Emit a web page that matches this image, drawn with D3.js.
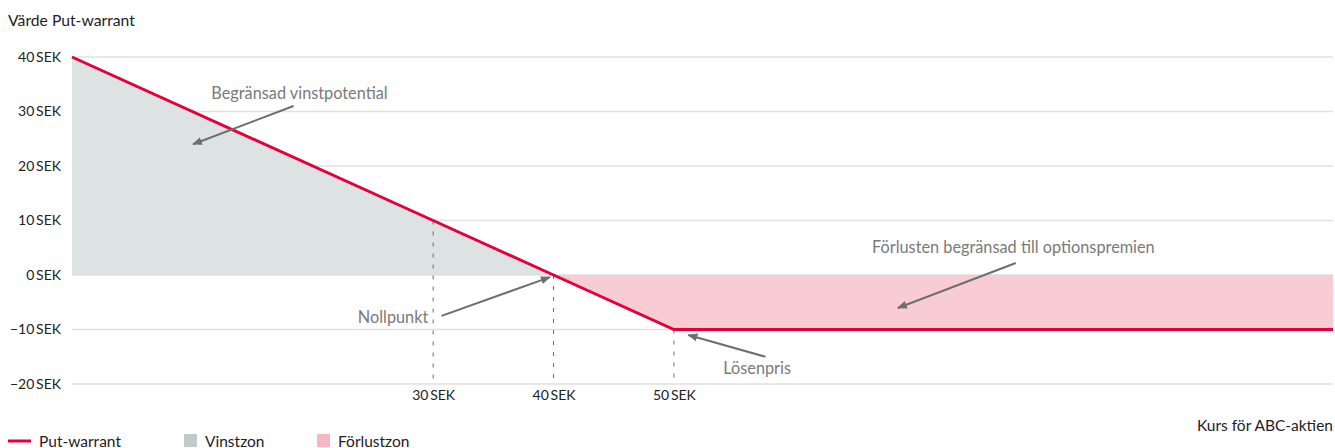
<!DOCTYPE html>
<html>
<head>
<meta charset="utf-8">
<script src="https://cdn.jsdelivr.net/npm/d3@7"></script>
<style>
  html, body { margin: 0; padding: 0; background: #fff; }
  svg { display: block; font-family: "Lato", "Open Sans", sans-serif; }
</style>
</head>
<body>
<svg id="chart" width="1335" height="448"></svg>
<script>
// Share price (SEK) and value of the put warrant (SEK)
const prices = [0, 30, 40, 50, 104.75];
const warrantValues = [40, 10, 0, -10, -10];

// Axis ticks
const yTicks = [40, 30, 20, 10, 0, -10, -20];
const xTicks = [30, 40, 50];

// Callouts: text anchor point, arrow start and arrow tip, in data units
const callouts = [
  { text: "Begränsad vinstpotential", tx: 18.9, ty: 32.3, anchor: "middle", x1: 18.4, y1: 31.0, x2: 10.05, y2: 24.0 },
  { text: "Nollpunkt", tx: 29.6, ty: -8.8, anchor: "end", x1: 30.7, y1: -7.5, x2: 39.7, y2: -0.4 },
  { text: "Lösenpris", tx: 54.1, ty: -18.2, anchor: "start", x1: 57.6, y1: -15.0, x2: 51.2, y2: -11.0 },
  { text: "Förlusten begränsad till optionspremien", tx: 78.2, ty: 4.0, anchor: "middle", x1: 78.4, y1: 2.2, x2: 68.6, y2: -6.05 }
];

const legendItems = [
  { label: "Put-warrant", kind: "line", color: "#e4003b" },
  { label: "Vinstzon", kind: "box", color: "#c1cacb" },
  { label: "Förlustzon", kind: "box", color: "#f7b6c3" }
];

const svg = d3.select("#chart");
const x = d3.scaleLinear().domain([0, 104.75]).range([72, 1333]);
const y = d3.scaleLinear().domain([-20, 40]).range([384, 57]);

const pts = prices.map((p, i) => ({ p, v: warrantValues[i] }));

// Grid lines
svg.append("g")
  .attr("class", "grid")
  .selectAll("line")
  .data(yTicks)
  .join("line")
  .attr("x1", x(0)).attr("x2", x(104.75))
  .attr("y1", d => y(d)).attr("y2", d => y(d))
  .attr("stroke", "#e1e1e1")
  .attr("stroke-width", 1.5);

// Profit zone (above zero) and loss zone (below zero)
const profitArea = d3.area()
  .x(d => x(d.p))
  .y0(y(0))
  .y1(d => y(Math.max(d.v, 0)));
const lossArea = d3.area()
  .x(d => x(d.p))
  .y0(y(0))
  .y1(d => y(Math.min(d.v, 0)));

const breakEvenIdx = warrantValues.indexOf(0);
svg.append("path")
  .datum(pts.slice(0, breakEvenIdx + 1))
  .attr("d", profitArea)
  .attr("fill", "#dde3e3");
svg.append("path")
  .datum(pts.slice(breakEvenIdx))
  .attr("d", lossArea)
  .attr("fill", "#f9ccd4");

// Dashed drop lines at the labelled prices
svg.append("g")
  .selectAll("line")
  .data(xTicks)
  .join("line")
  .attr("x1", d => x(d)).attr("x2", d => x(d))
  .attr("y1", d => y(warrantValues[prices.indexOf(d)]))
  .attr("y2", y(-20))
  .attr("stroke", "#6b6b6b")
  .attr("stroke-width", 1)
  .attr("stroke-dasharray", "4,7");

// Payoff line
svg.append("path")
  .datum(pts)
  .attr("d", d3.line().x(d => x(d.p)).y(d => y(d.v)))
  .attr("fill", "none")
  .attr("stroke", "#e4003b")
  .attr("stroke-width", 3)
  .attr("stroke-linejoin", "miter");

// Y axis
const yAxis = d3.axisLeft(y)
  .tickValues(yTicks)
  .tickSize(0)
  .tickPadding(11)
  .tickFormat(d => (d < 0 ? "\u2212" + Math.abs(d) : d) + "\u2009SEK");
svg.append("g")
  .attr("transform", `translate(${x(0)},0)`)
  .call(yAxis)
  .call(g => g.select(".domain").remove())
  .selectAll("text")
  .attr("font-family", "Lato, 'Open Sans', sans-serif")
  .attr("font-size", 14)
  .attr("fill", "#222");

// X axis
const xAxis = d3.axisBottom(x)
  .tickValues(xTicks)
  .tickSize(0)
  .tickPadding(6)
  .tickFormat(d => d + "\u2009SEK");
svg.append("g")
  .attr("transform", `translate(0,${y(-20)})`)
  .call(xAxis)
  .call(g => g.select(".domain").remove())
  .selectAll("text")
  .attr("font-family", "Lato, 'Open Sans', sans-serif")
  .attr("font-size", 14)
  .attr("fill", "#222");

// Axis titles
svg.append("text")
  .attr("x", 8).attr("y", 26)
  .attr("font-size", 15.7).attr("fill", "#222")
  .text("Värde Put-warrant");
svg.append("text")
  .attr("x", 1333).attr("y", 431)
  .attr("text-anchor", "end")
  .attr("font-size", 15.5).attr("fill", "#222")
  .text("Kurs för ABC-aktien");

// Arrowhead
svg.append("defs").append("marker")
  .attr("id", "arrow")
  .attr("viewBox", "0 0 10 10")
  .attr("refX", 9).attr("refY", 5)
  .attr("markerWidth", 5).attr("markerHeight", 5)
  .attr("markerUnits", "strokeWidth")
  .attr("orient", "auto")
  .append("path")
  .attr("d", "M0,1 L10,5 L0,9 z")
  .attr("fill", "#6e6e6e");

// Callouts
const cg = svg.append("g").attr("class", "callouts");
cg.selectAll("line")
  .data(callouts)
  .join("line")
  .attr("x1", d => x(d.x1)).attr("y1", d => y(d.y1))
  .attr("x2", d => x(d.x2)).attr("y2", d => y(d.y2))
  .attr("stroke", "#6e6e6e")
  .attr("stroke-width", 2)
  .attr("marker-end", "url(#arrow)");
cg.selectAll("text")
  .data(callouts)
  .join("text")
  .attr("x", d => x(d.tx)).attr("y", d => y(d.ty))
  .attr("text-anchor", d => d.anchor)
  .attr("font-size", 16.3)
  .attr("fill", "#7a7a7a")
  .text(d => d.text);

// Legend
const lg = svg.append("g").attr("transform", "translate(8,441)");
const legendX = [0, 176, 309];
const item = lg.selectAll("g")
  .data(legendItems)
  .join("g")
  .attr("transform", (d, i) => `translate(${legendX[i]},0)`);
item.filter(d => d.kind === "line")
  .append("line")
  .attr("x1", 0).attr("x2", 23).attr("y1", 0).attr("y2", 0)
  .attr("stroke", d => d.color).attr("stroke-width", 3);
item.filter(d => d.kind === "box")
  .append("rect")
  .attr("x", 0).attr("y", -7).attr("width", 13).attr("height", 13)
  .attr("fill", d => d.color);
item.append("text")
  .attr("x", d => d.kind === "line" ? 31 : 21)
  .attr("y", 5.5)
  .attr("font-size", 15.5)
  .attr("fill", "#222")
  .text(d => d.label);
</script>
</body>
</html>
